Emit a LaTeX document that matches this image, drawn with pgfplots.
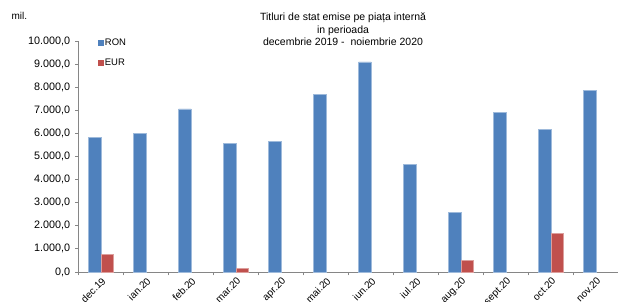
\documentclass[border=0pt]{standalone}
\usepackage{fontspec}
\setmainfont{Liberation Sans}
\usepackage{pgfplots}
\pgfplotsset{compat=1.18}
\definecolor{ronblue}{HTML}{4F81BD}
\definecolor{eurred}{HTML}{C0504D}
\definecolor{axgray}{HTML}{868686}
\begin{document}
\begin{tikzpicture}[x=1pt,y=1pt]
\path[use as bounding box] (0,0) rectangle (618,302);
\node[anchor=base west, font=\fontsize{10}{12}\selectfont] at (8,282.3) {mil.};
\node[anchor=base, font=\fontsize{10.5}{12.5}\selectfont] at (343,281.3) {Titluri de stat emise pe piața internă};
\node[anchor=base, font=\fontsize{10.5}{12.5}\selectfont] at (343,268.8) {in perioada};
\node[anchor=base, font=\fontsize{10.5}{12.5}\selectfont] at (343,256.3) {decembrie 2019 -\ \ noiembrie 2020};
\begin{axis}[
  scale only axis, width=540pt, height=231pt,
  at={(78.7pt,30pt)}, anchor=south west,
  xmin=-0.5, xmax=11.5, ymin=0, ymax=10000,
  axis x line*=bottom, axis y line*=left,
  axis line style={axgray, line width=0.8pt},
  x axis line style={-}, y axis line style={-},
  tick align=outside, major tick length=3.5pt,
  tick style={axgray, line width=0.8pt},
  ytick={0,1000,...,10000},
  scaled y ticks=false,
  /pgf/number format/assume math mode=true,
  yticklabel style={xshift=-1.5pt, font=\fontsize{10.8}{12}\selectfont, /pgf/number format/.cd, fixed, fixed zerofill, precision=1, use comma, 1000 sep={.}},
  xtick={-0.5,0.5,...,11.5}, xticklabels={},
  extra x ticks={0,1,...,11},
  extra x tick labels={dec.19,ian.20,feb.20,mar.20,apr.20,mai.20,iun.20,iul.20,aug.20,sept.20,oct.20,nov.20},
  extra x tick style={major tick length=0pt, tick label style={rotate=45, anchor=north east, font=\fontsize{10}{12}\selectfont}},
  ybar=0pt, bar width=12.5pt,
  legend style={at={(0.0352,1.017)}, anchor=north west, inner sep=0pt, draw=none, fill=none, row sep=9pt, font=\fontsize{9.5}{11}\selectfont, nodes={inner sep=1.5pt}},
  legend cell align=left,
  clip=false,
]
\addplot[fill=ronblue, draw=ronblue!55!white, line width=0.5pt,
  legend image code/.code={\fill[ronblue] (0pt,-2.5pt) rectangle (5pt,2.5pt);}]
  coordinates {(0,5830) (1,6000) (2,7060) (3,5570) (4,5670) (5,7690) (6,9100) (7,4645) (8,2585) (9,6910) (10,6180) (11,7865)};
\addlegendentry{RON}
\addplot[fill=eurred, draw=eurred!55!white, line width=0.5pt,
  legend image code/.code={\fill[eurred] (0pt,-2.5pt) rectangle (5pt,2.5pt);}]
  coordinates {(0,765) (3,160) (8,505) (10,1658)};
\addlegendentry{EUR}
\end{axis}
\end{tikzpicture}
\end{document}
